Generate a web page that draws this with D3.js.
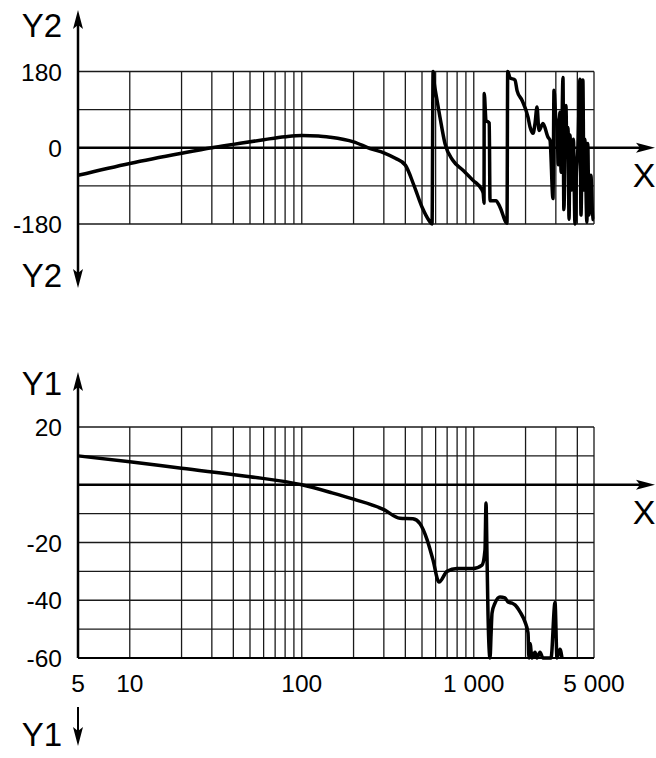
<!DOCTYPE html>
<html lang="en">
<head>
<meta charset="utf-8">
<title>Bode plot</title>
<script src="https://cdn.jsdelivr.net/npm/d3@7"></script>
<style>
  body { margin: 0; background: #fff; }
  text { font-family: "Liberation Sans", Arial, sans-serif; fill: #000; }
</style>
</head>
<body>
<script>
// frequency grid and tick labels
var gridFreq = [10, 20, 30, 40, 50, 60, 70, 80, 90, 100,
                200, 300, 400, 500, 600, 700, 800, 900, 1000,
                2000, 3000, 4000, 5000];
var freqTicks = [5, 10, 100, 1000, 5000];
var freqLabels = ["5", "10", "100", "1 000", "5 000"];

var phaseGrid = [-180, -90, 90, 180];
var phaseTicks = [180, 0, -180];

var magGrid = [20, 10, -10, -20, -30, -40, -50, -60];
var magTicks = [20, -20, -40, -60];

// phase curve (Y2), [frequency, degrees]
var phase = [
  [5, -65], [10, -37], [20, -13], [30, 0], [40, 8], [60, 19], [80, 26], [100, 29],
  [125, 28], [146, 25], [200, 14], [250, -2], [300, -12], [350, -25],
  [400, -41], [450, -90], [500, -140], [550, -172], [572, -180], [580, 180],
  [590, 150], [602, 128], [636, 72], [680, 10], [757, -30], [866, -53], [990, -77],
  [1117, -100], [1135, -108], [1147, -131], [1150, 128], [1178, 65], [1230, 58],
  [1243, -125], [1346, -125], [1420, -140], [1560, -178], [1575, 180], [1625, 165],
  [1736, 160], [1785, 135], [1907, 112], [2067, 72], [2124, 49], [2210, 34],
  [2270, 57], [2331, 96], [2394, 41], [2525, 57], [2701, 25], [2774, 18],
  [2888, -120], [2927, 136], [3000, 70], [3047, 60], [3100, -40], [3170, 84],
  [3220, -58], [3301, 166], [3340, -146], [3434, 100], [3480, -20], [3530, 48],
  [3580, -169], [3625, 30], [3700, -100], [3796, 20], [3876, -180], [3950, -60],
  [4032, 0], [4141, 162], [4200, -159], [4308, 160], [4370, -100], [4425, 20],
  [4545, -176], [4600, 10], [4668, -159], [4795, -65], [4925, -169], [5000, -170]
];

// magnitude curve (Y1), [frequency, dB]
var magnitude = [
  [5, 10], [10, 8], [20, 5.7], [50, 2.8], [100, 0], [150, -2.8], [200, -5],
  [300, -8.6], [372, -11.6], [443, -11.8], [487, -13.5], [535, -19], [579, -26],
  [628, -33.7], [699, -30], [799, -29], [990, -29], [1117, -27.8], [1162, -22.6],
  [1178, -6.3], [1194, -25], [1210, -45], [1243, -60], [1260, -52], [1277, -44.4],
  [1329, -41], [1420, -38.9], [1519, -39.2], [1581, -40.6], [1668, -41],
  [1736, -41.6], [1857, -44], [1985, -47.5], [2067, -51.3], [2094, -60],
  [2124, -55], [2180, -60], [2270, -58], [2330, -60], [2427, -58], [2525, -60],
  [2812, -60], [2967, -40.8], [3047, -60], [3171, -57], [3258, -60]
];

var W = 656, H = 758;
var svg = d3.select("body").append("svg")
    .attr("width", W).attr("height", H);

var x = d3.scaleLog().domain([5, 5000]).range([78, 594]);
var yPhase = d3.scaleLinear().domain([-180, 180]).range([224, 71.5]);
var yMag = d3.scaleLinear().domain([-60, 20]).range([658, 427]);

var defs = svg.append("defs");
function clip(id, y0, y1) {
  defs.append("clipPath").attr("id", id)
    .append("rect").attr("x", 76).attr("y", y0 - 3)
    .attr("width", 520).attr("height", y1 - y0 + 6);
}
clip("clipTop", 71.5, 224);
clip("clipBot", 427, 658);

// arrowhead drawn as a path with tip at origin pointing up
function arrow(g, tx, ty, angle) {
  g.append("path")
    .attr("d", "M0,0 L-5,19 L0,15 L5,19 Z")
    .attr("transform", "translate(" + tx + "," + ty + ") rotate(" + angle + ")")
    .attr("fill", "#000");
}

function panel(yScale, gridVals, tickVals) {
  var g = svg.append("g");
  var top = yScale.range()[1], bot = yScale.range()[0];

  g.selectAll(".vgrid").data(gridFreq).enter().append("line")
    .attr("x1", d => x(d)).attr("x2", d => x(d))
    .attr("y1", top).attr("y2", bot)
    .attr("stroke", "#1a1a1a").attr("stroke-width", 1.3);

  g.selectAll(".hgrid").data(gridVals).enter().append("line")
    .attr("x1", x(5)).attr("x2", x(5000))
    .attr("y1", d => yScale(d)).attr("y2", d => yScale(d))
    .attr("stroke", "#1a1a1a").attr("stroke-width", 1.3);

  g.selectAll(".ylab").data(tickVals).enter().append("text")
    .attr("x", 62).attr("y", d => yScale(d) + 9)
    .attr("text-anchor", "end")
    .style("font-size", "24.5px")
    .text(d => d);

  // x axis through zero
  g.append("line")
    .attr("x1", x(5)).attr("x2", 640)
    .attr("y1", yScale(0)).attr("y2", yScale(0))
    .attr("stroke", "#000").attr("stroke-width", 2.5);
  arrow(g, 655, yScale(0), 90);
  g.append("text")
    .attr("x", 644).attr("y", yScale(0) + 39)
    .attr("text-anchor", "middle")
    .style("font-size", "34px")
    .text("X");
  return g;
}

var line = function (ys) {
  return d3.line().curve(d3.curveMonotoneX)
    .x(d => x(d[0])).y(d => ys(d[1]));
};

// ---- top panel (Y2) ----
var gTop = panel(yPhase, phaseGrid, phaseTicks);
gTop.append("line")
  .attr("x1", 78).attr("x2", 78).attr("y1", 24).attr("y2", 274)
  .attr("stroke", "#000").attr("stroke-width", 2.5);
arrow(gTop, 78, 10, 0);
arrow(gTop, 78, 288, 180);
gTop.append("text").attr("x", 42).attr("y", 37)
  .attr("text-anchor", "middle").style("font-size", "33px").text("Y2");
gTop.append("text").attr("x", 42).attr("y", 287)
  .attr("text-anchor", "middle").style("font-size", "33px").text("Y2");

gTop.append("path").datum(phase)
  .attr("clip-path", "url(#clipTop)")
  .attr("d", line(yPhase))
  .attr("fill", "none").attr("stroke", "#000")
  .attr("stroke-width", 3.5).attr("stroke-linejoin", "round");

// ---- bottom panel (Y1) ----
var gBot = panel(yMag, magGrid, magTicks);
gBot.append("line")
  .attr("x1", 78).attr("x2", 78).attr("y1", 386).attr("y2", 658)
  .attr("stroke", "#000").attr("stroke-width", 2.5);
gBot.append("line")
  .attr("x1", 78).attr("x2", 594).attr("y1", 658).attr("y2", 658)
  .attr("stroke", "#000").attr("stroke-width", 2);
arrow(gBot, 78, 372, 0);
gBot.append("text").attr("x", 42).attr("y", 395)
  .attr("text-anchor", "middle").style("font-size", "33px").text("Y1");

gBot.selectAll(".xlab").data(freqTicks).enter().append("text")
  .attr("x", d => x(d)).attr("y", 692)
  .attr("text-anchor", "middle")
  .style("font-size", "24.5px")
  .text((d, i) => freqLabels[i]);

gBot.append("path").datum(magnitude)
  .attr("clip-path", "url(#clipBot)")
  .attr("d", line(yMag))
  .attr("fill", "none").attr("stroke", "#000")
  .attr("stroke-width", 3.5).attr("stroke-linejoin", "round");

// standalone down arrow below the frequency labels
gBot.append("line")
  .attr("x1", 78).attr("x2", 78).attr("y1", 707).attr("y2", 735)
  .attr("stroke", "#000").attr("stroke-width", 2);
arrow(gBot, 78, 746, 180);
gBot.append("text").attr("x", 42).attr("y", 746)
  .attr("text-anchor", "middle").style("font-size", "33px").text("Y1");
</script>
</body>
</html>
